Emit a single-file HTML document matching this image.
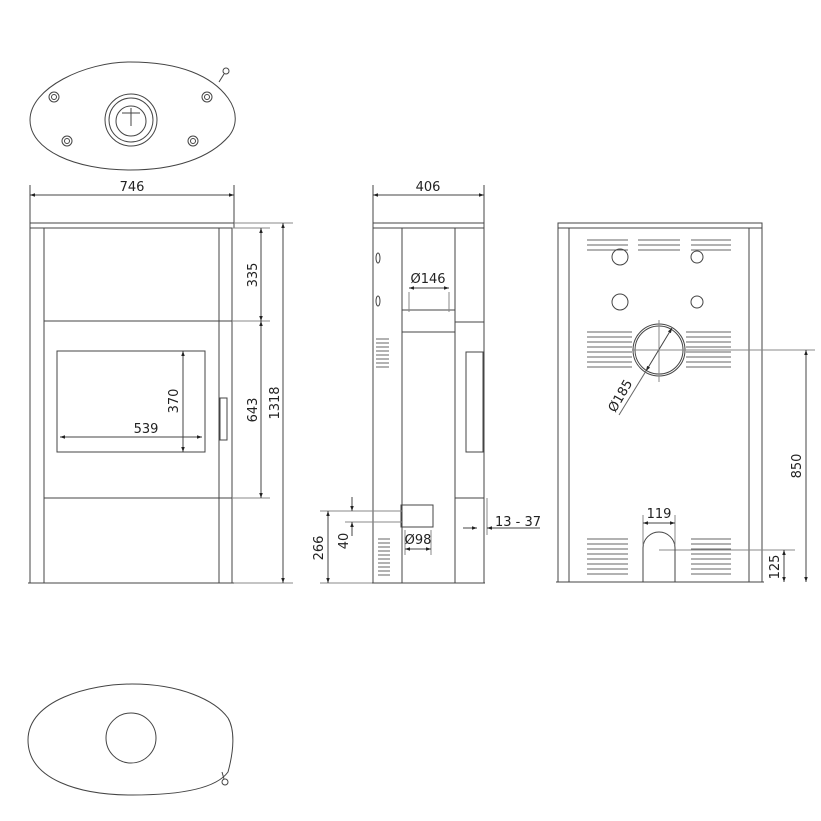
<!DOCTYPE html>
<html><head><meta charset="utf-8"><style>
html,body{margin:0;padding:0;background:#fff;}
svg{display:block;}
text{font-family:"DejaVu Sans","Liberation Sans",sans-serif;font-size:13px;fill:#222;}
</style></head><body>
<svg width="821" height="821" viewBox="0 0 821 821" xmlns="http://www.w3.org/2000/svg">
<defs>
<marker id="a" viewBox="0 0 10 10" refX="10" refY="5" markerWidth="7" markerHeight="5" orient="auto-start-reverse"><path d="M0,1.5 L10,5 L0,8.5z" fill="#222"/></marker>
</defs>
<g fill="none" stroke="#444" stroke-width="1">
<!-- Top oval -->
<path d="M30,120 C30,88 85,62 130,62 C180,62 212,76 228,98 C238,112 237,126 229,136 C210,158 175,170 130,170 C75,170 30,150 30,120Z"/>
<circle cx="131" cy="120" r="26"/><circle cx="131" cy="120" r="22"/><circle cx="131" cy="121" r="15"/>
<path d="M131,108 V126 M122,113 L140,113"/>
<circle cx="54" cy="97" r="5"/><circle cx="54" cy="97" r="2.5"/>
<circle cx="207" cy="97" r="5"/><circle cx="207" cy="97" r="2.5"/>
<circle cx="67" cy="141" r="5"/><circle cx="67" cy="141" r="2.5"/>
<circle cx="193" cy="141" r="5"/><circle cx="193" cy="141" r="2.5"/>
<circle cx="226" cy="71" r="3"/><path d="M224,74 L219,82"/>
<!-- Front view -->
<rect x="30" y="223" width="204" height="5"/>
<path d="M30,228 V583 M44,228 V583 M219,228 V583 M232,228 V583 M28,583 H234"/>
<path d="M44,321 H232 M44,498 H232"/>
<rect x="57" y="351" width="148" height="101"/>
<rect x="220" y="398" width="7" height="42"/>
<path d="M30,185 V223 M234,185 V223"/>
<path d="M30,195 H234" marker-start="url(#a)" marker-end="url(#a)"/>
<path d="M60,437 H202" marker-start="url(#a)" marker-end="url(#a)"/>
<path d="M183,351 V452" marker-start="url(#a)" marker-end="url(#a)"/>
<path d="M234,223 H293 M232,228 H270 M232,321 H270 M232,498 H270 M234,583 H293" stroke="#888"/>
<path d="M261,228 V321" marker-start="url(#a)" marker-end="url(#a)"/>
<path d="M261,321 V498" marker-start="url(#a)" marker-end="url(#a)"/>
<path d="M283,223 V583" marker-start="url(#a)" marker-end="url(#a)"/>
<!-- Side view -->
<rect x="373" y="223" width="111" height="5"/>
<path d="M373,228 V583 M402,228 V583 M455,228 V583 M484,228 V583 M372,583 H485"/>
<path d="M455,322 H484 M455,498 H484"/>
<rect x="402" y="310" width="53" height="22"/>
<rect x="466" y="352" width="17" height="100"/>
<rect x="401" y="505" width="32" height="22"/>
<ellipse cx="378" cy="258" rx="2" ry="5"/><ellipse cx="378" cy="301" rx="2" ry="5"/>
<path d="M376,339h13M376,343h13M376,347h13M376,351h13M376,355h13M376,359h13M376,363h13M376,367h13" stroke="#666"/>
<path d="M378,539h12M378,543h12M378,547h12M378,551h12M378,555h12M378,559h12M378,563h12M378,567h12M378,571h12M378,575h12" stroke="#666"/>
<path d="M373,185 V223 M484,185 V223"/>
<path d="M373,195 H484" marker-start="url(#a)" marker-end="url(#a)"/>
<path d="M409,292 V312 M449,292 V312" stroke="#888"/>
<path d="M409,288 H449" marker-start="url(#a)" marker-end="url(#a)"/>
<path d="M405,530 V555 M431,530 V555" stroke="#888"/>
<path d="M405,549 H431" marker-start="url(#a)" marker-end="url(#a)"/>
<path d="M320,511 H402 M345,522 H402 M320,583 H372" stroke="#888"/>
<path d="M328,511 V583" marker-start="url(#a)" marker-end="url(#a)"/>
<path d="M352,497 V511" marker-end="url(#a)"/>
<path d="M352,536 V522" marker-end="url(#a)"/>
<path d="M487,498 V535" stroke="#888"/>
<path d="M463,528 H477" marker-end="url(#a)"/>
<path d="M540,528 H487" marker-end="url(#a)"/>
<!-- Back view -->
<rect x="558" y="223" width="204" height="5"/>
<path d="M558,228 V582 M569,228 V582 M749,228 V582 M762,228 V582 M556,582 H764"/>
<path d="M587,240h41M587,245h41M587,250h41M638,240h42M638,245h42M638,250h42M691,240h40M691,245h40M691,250h40" stroke="#666"/>
<circle cx="620" cy="257" r="8"/><circle cx="697" cy="257" r="6"/>
<circle cx="620" cy="302" r="8"/><circle cx="697" cy="302" r="6"/>
<circle cx="659" cy="350" r="26"/><circle cx="659" cy="350" r="24"/>
<path d="M587,332h45M587,337h45M587,342h45M587,347h45M587,352h45M587,357h45M587,362h45M587,367h45M686,332h45M686,337h45M686,342h45M686,347h45M686,352h45M686,357h45M686,362h45M686,367h45" stroke="#666"/>
<path d="M659,320 V382" stroke="#888"/>
<path d="M619,415 L646,371" stroke="#666"/>
<path d="M646,371 L672,328" marker-start="url(#a)" marker-end="url(#a)"/>
<path d="M632,350 H815 M659,550 H795" stroke="#888"/>
<path d="M806,350 V582" marker-start="url(#a)" marker-end="url(#a)"/>
<path d="M784,550 V582" marker-start="url(#a)" marker-end="url(#a)"/>
<path d="M643,582 V548 A16,16 0 0 1 675,548 V582"/>
<path d="M643,515 V545 M675,515 V545" stroke="#888"/>
<path d="M643,523 H675" marker-start="url(#a)" marker-end="url(#a)"/>
<path d="M587,539h41M587,544h41M587,549h41M587,554h41M587,559h41M587,564h41M587,569h41M587,574h41M691,539h40M691,544h40M691,549h40M691,554h40M691,559h40M691,564h40M691,569h40M691,574h40" stroke="#666"/>
<!-- Bottom oval -->
<path d="M28,740 C28,700 90,684 132,684 C180,684 215,700 228,718 C235,730 234,750 228,772 C215,790 175,795 132,795 C80,795 28,780 28,740Z"/>
<circle cx="131" cy="738" r="25"/>
<circle cx="225" cy="782" r="3"/><path d="M222,772 L224,779"/>
</g>
<text x="132" y="191" text-anchor="middle">746</text>
<text x="146" y="433" text-anchor="middle">539</text>
<text x="178" y="401" text-anchor="middle" transform="rotate(-90 178 401)">370</text>
<text x="257" y="275" text-anchor="middle" transform="rotate(-90 257 275)">335</text>
<text x="257" y="410" text-anchor="middle" transform="rotate(-90 257 410)">643</text>
<text x="279" y="403" text-anchor="middle" transform="rotate(-90 279 403)">1318</text>
<text x="428" y="191" text-anchor="middle">406</text>
<text x="428" y="283" text-anchor="middle">Ø146</text>
<text x="418" y="544" text-anchor="middle">Ø98</text>
<text x="518" y="526" text-anchor="middle">13 - 37</text>
<text x="323" y="548" text-anchor="middle" transform="rotate(-90 323 548)">266</text>
<text x="348" y="541" text-anchor="middle" transform="rotate(-90 348 541)">40</text>
<text x="624" y="398" text-anchor="middle" transform="rotate(-60 624 398)">Ø185</text>
<text x="659" y="518" text-anchor="middle">119</text>
<text x="801" y="466" text-anchor="middle" transform="rotate(-90 801 466)">850</text>
<text x="779" y="567" text-anchor="middle" transform="rotate(-90 779 567)">125</text>
</svg>
</body></html>
